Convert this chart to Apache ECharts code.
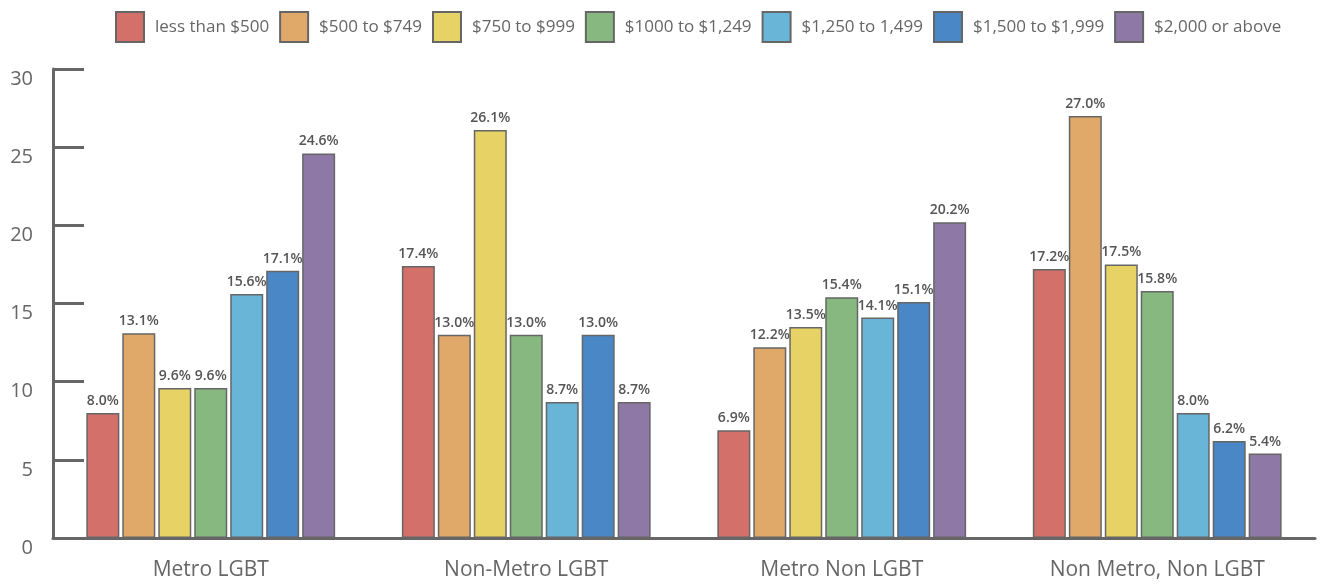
<!DOCTYPE html>
<html>
<head>
<meta charset="utf-8">
<script src="https://cdn.jsdelivr.net/npm/echarts@6/dist/echarts.min.js"></script>
<style>html,body{margin:0;padding:0;background:#fff}#c{width:1322px;height:586px}</style>
</head>
<body>
<div id="c"></div>
<script>
const categories = ['Metro LGBT', 'Non-Metro LGBT', 'Metro Non LGBT', 'Non Metro, Non LGBT'];
const seriesNames = ['less than $500', '$500 to $749', '$750 to $999', '$1000 to $1,249', '$1,250 to 1,499', '$1,500 to $1,999', '$2,000 or above'];
const lessThan500 = [8.0, 17.4, 6.9, 17.2];
const from500to749 = [13.1, 13.0, 12.2, 27.0];
const from750to999 = [9.6, 26.1, 13.5, 17.5];
const from1000to1249 = [9.6, 13.0, 15.4, 15.8];
const from1250to1499 = [15.6, 8.7, 14.1, 8.0];
const from1500to1999 = [17.1, 13.0, 15.1, 6.2];
const from2000up = [24.6, 8.7, 20.2, 5.4];
const yTicks = [0, 5, 10, 15, 20, 25, 30];

const values = [lessThan500, from500to749, from750to999, from1000to1249, from1250to1499, from1500to1999, from2000up];
const colors = ['#d4706a', '#e0a96a', '#e6d265', '#86b87f', '#68b5d8', '#4a87c6', '#8e78a6'];
const font = 'Open Sans';

const chart = echarts.init(document.getElementById('c'));
chart.setOption({
  animation: false,
  textStyle: { fontFamily: font },
  legend: {
    top: 6, left: 110,
    itemWidth: 28, itemHeight: 30, itemGap: 10,
    icon: 'rect',
    textStyle: { fontSize: 17, color: '#666', fontFamily: font, padding: [0, 0, 0, 6] }
  },
  grid: { left: 53, right: 7, top: 69, bottom: 48, containLabel: false },
  xAxis: {
    type: 'category',
    data: categories,
    axisLine: { lineStyle: { color: '#666', width: 3 } },
    axisTick: { inside: true, length: 12, lineStyle: { color: '#666', width: 3 } },
    axisLabel: { fontSize: 21, color: '#666', margin: 22, fontFamily: font }
  },
  yAxis: {
    type: 'value', min: yTicks[0], max: yTicks[yTicks.length - 1], interval: 5,
    axisLine: { show: true, lineStyle: { color: '#666', width: 3 } },
    axisTick: { show: true, inside: true, length: 31, lineStyle: { color: '#666', width: 3 } },
    splitLine: { show: false },
    axisLabel: { fontSize: 20, color: '#666', margin: 20, verticalAlign: 'top', fontFamily: font }
  },
  series: seriesNames.map((name, i) => ({
    name,
    type: 'bar',
    data: values[i],
    barWidth: 33,
    barGap: '9%',
    itemStyle: { color: colors[i], borderColor: '#666', borderWidth: 1.5 },
    label: {
      show: true, position: 'top', distance: 5,
      formatter: p => p.value.toFixed(1) + '%',
      fontSize: 14, fontWeight: 600, color: '#555', fontFamily: font
    }
  }))
});
</script>
</body>
</html>
